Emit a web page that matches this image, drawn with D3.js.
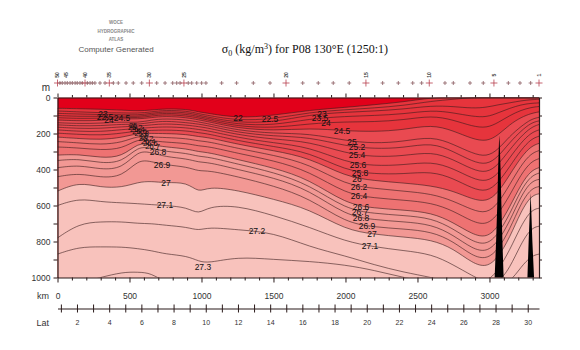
<!DOCTYPE html>
<html>
<head>
<meta charset="utf-8">
<script src="https://cdn.jsdelivr.net/npm/d3@7"></script>
<style>
    body { margin: 0; background: #ffffff; }
    svg { display: block; }
</style>
</head>
<body>
<div id="section_plot"></div>
<script>
// sigma-0 levels that are contoured
var levels = [22, 22.5, 23, 23.5, 24, 24.5, 25, 25.2, 25.4, 25.6, 25.8, 26, 26.2, 26.4, 26.6, 26.7, 26.8, 26.9, 27, 27.1, 27.2, 27.3, 27.4];

// distance along the section (km) of the columns where the depths were read
var columnKm = [0, 150, 300, 450, 560, 650, 750, 900, 980, 1050, 1250, 1500, 1750, 2000, 2200, 2400, 2600, 2750, 2880, 2980, 3060, 3140, 3220, 3290, 3344];

// depth (m) of every contour at those columns (1030 = below the plotted range)
var d22   = [60, 62, 65, 70, 75, 70, 62, 65, 80, 88, 114, 100, 70, 55, 40, 25, 0, 0, 0, 0, 0, 0, 0, 0, 0];
var d22_5 = [75, 80, 85, 85, 88, 80, 70, 75, 90, 100, 128, 120, 82, 68, 58, 45, 20, 10, 0, 0, 0, 0, 0, 0, 0];
var d23   = [88, 92, 95, 95, 98, 88, 78, 84, 98, 110, 140, 138, 95, 82, 75, 65, 45, 50, 60, 55, 40, 30, 18, 12, 10];
var d23_5 = [100, 105, 105, 103, 106, 95, 86, 93, 106, 118, 150, 155, 118, 105, 100, 92, 70, 85, 105, 110, 85, 60, 40, 32, 30];
var d24   = [112, 117, 115, 110, 113, 103, 94, 102, 114, 126, 160, 170, 145, 135, 135, 125, 100, 125, 160, 170, 140, 100, 70, 55, 50];
var d24_5 = [125, 130, 128, 117, 120, 112, 103, 112, 124, 135, 170, 185, 170, 185, 190, 180, 150, 185, 230, 245, 210, 150, 110, 88, 80];
var d25   = [140, 145, 143, 135, 140, 125, 117, 125, 136, 146, 182, 200, 200, 240, 255, 245, 215, 260, 310, 330, 290, 215, 160, 120, 110];
var d25_2 = [152, 158, 157, 148, 150, 138, 130, 140, 148, 157, 194, 215, 220, 270, 285, 280, 250, 300, 355, 375, 330, 250, 185, 140, 130];
var d25_4 = [165, 172, 172, 162, 160, 152, 145, 153, 162, 170, 207, 232, 245, 310, 330, 325, 300, 345, 400, 420, 375, 290, 215, 165, 150];
var d25_6 = [180, 188, 190, 178, 172, 167, 162, 168, 178, 185, 222, 252, 275, 360, 380, 375, 355, 395, 450, 470, 425, 335, 250, 195, 180];
var d25_8 = [198, 205, 210, 198, 185, 183, 180, 185, 196, 202, 240, 272, 305, 405, 425, 425, 410, 450, 505, 525, 475, 385, 290, 230, 215];
var d26   = [220, 228, 235, 222, 198, 200, 200, 205, 218, 222, 260, 295, 335, 440, 462, 475, 490, 520, 565, 580, 530, 430, 330, 270, 255];
var d26_2 = [245, 252, 262, 250, 212, 220, 222, 228, 242, 245, 283, 320, 370, 485, 505, 520, 535, 575, 625, 645, 590, 485, 375, 310, 295];
var d26_4 = [275, 280, 292, 285, 228, 240, 248, 255, 270, 272, 310, 350, 410, 535, 558, 570, 585, 630, 690, 710, 650, 545, 425, 355, 340];
var d26_6 = [320, 315, 335, 330, 250, 262, 275, 285, 302, 305, 345, 390, 455, 590, 615, 625, 640, 695, 760, 780, 720, 610, 480, 405, 390];
var d26_7 = [350, 340, 365, 360, 270, 282, 300, 310, 328, 330, 370, 415, 485, 620, 645, 655, 670, 730, 800, 820, 760, 650, 510, 435, 420];
var d26_8 = [390, 375, 400, 395, 295, 305, 330, 340, 360, 360, 400, 445, 515, 655, 680, 690, 705, 765, 840, 860, 800, 690, 545, 465, 455];
var d26_9 = [440, 420, 445, 440, 345, 355, 375, 385, 410, 405, 440, 490, 560, 695, 720, 730, 745, 800, 880, 900, 845, 735, 585, 505, 495];
var d27   = [520, 470, 500, 500, 470, 465, 475, 470, 530, 495, 515, 565, 620, 735, 760, 775, 790, 840, 920, 945, 890, 780, 630, 545, 535];
var d27_1 = [600, 560, 580, 585, 590, 595, 600, 610, 650, 605, 600, 655, 720, 800, 830, 850, 870, 930, 990, 1030, 960, 850, 710, 625, 615];
var d27_2 = [780, 700, 690, 690, 700, 700, 710, 720, 740, 720, 735, 750, 830, 880, 930, 970, 1000, 1030, 1030, 1030, 1030, 950, 810, 725, 715];
var d27_3 = [870, 830, 830, 830, 840, 850, 870, 880, 910, 920, 885, 900, 910, 930, 960, 1000, 1030, 1030, 1030, 1030, 1030, 1030, 940, 880, 870];
var d27_4 = [1030, 1030, 1000, 970, 970, 975, 1030, 1030, 1030, 1030, 1030, 1030, 1030, 1030, 1030, 1030, 1030, 1030, 1030, 1030, 1030, 1030, 1030, 1030, 1030];

// contour labels: text, distance (km), depth (m), size (the pile-up near 600 km is smaller)
var labelText  = ["23", "22.5", "24", "24.5", "25", "25.2", "25.4", "25.6", "25.8", "26", "26.2", "26.4", "26.6", "26.7", "26.8", "26.9", "27", "27.1", "27.3",
                  "22", "22.5", "27.2",
                  "23", "23.5", "24", "24.5", "25", "25.2", "25.4", "25.6", "25.8", "26", "26.2", "26.4", "26.6", "26.7", "26.8", "26.9", "27", "27.1"];
var labelKm    = [316, 330, 358, 448, 525, 540, 555, 570, 585, 600, 615, 630, 645, 660, 698, 726, 753, 746, 1010,
                  1253, 1476, 1385,
                  1837, 1823, 1865, 1976, 2045, 2080, 2080, 2087, 2101, 2080, 2094, 2094, 2108, 2101, 2108, 2149, 2184, 2170];
var labelDepth = [92, 108, 125, 114, 155, 166, 178, 190, 202, 214, 228, 243, 257, 272, 303, 375, 475, 597, 940,
                  114, 120, 740,
                  92, 114, 142, 186, 247, 275, 319, 375, 419, 453, 497, 547, 608, 636, 669, 714, 758, 825];
var labelSize  = [8.5, 8.5, 8.5, 8.5, 7.5, 7.5, 7.5, 7.5, 7.5, 7.5, 7.5, 7.5, 7.5, 7.5, 8.5, 8.5, 8.5, 8.5, 8.5,
                  8.5, 8.5, 8.5,
                  8.5, 8.5, 8.5, 8.5, 8.5, 8.5, 8.5, 8.5, 8.5, 8.5, 8.5, 8.5, 8.5, 8.5, 8.5, 8.5, 8.5, 8.5];

// sea floor spikes (km, m)
var ridgeKm    = [3034, 3046, 3054, 3060, 3066, 3068, 3071, 3077, 3083, 3090, 3100];
var ridgeDepth = [1040, 800, 600, 400, 250, 210, 250, 400, 600, 800, 1040];
var knollKm    = [3262, 3272, 3280, 3286, 3291, 3298, 3312];
var knollDepth = [1040, 800, 640, 530, 640, 800, 1040];

// stations along the top (km) and the numbered ones
var stationKm = [0, 17, 33, 52, 68, 87, 103, 122, 137, 156, 172, 191, 207, 226, 242, 260, 295, 330, 360, 388, 422, 476, 526, 585, 638, 689, 747, 800, 828, 851, 878, 908, 932, 967, 1001, 1031, 1140, 1244, 1360, 1476, 1587, 1703, 1811, 1915, 2026, 2142, 2258, 2367, 2467, 2529, 2582, 2691, 2749, 2865, 2957, 3031, 3131, 3212, 3286, 3344];
var stationLabelKm = [0, 60, 191, 360, 638, 878, 1587, 2142, 2582, 3031, 3344];
var stationLabels  = ["50", "45", "40", "35", "30", "25", "20", "15", "10", "5", "1"];

// axis ticks
var depthTicks = [0, 100, 200, 300, 400, 500, 600, 700, 800, 900, 1000];
var kmTicks = d3.range(0, 3301, 100);
var latTicks = d3.range(1, 31);

var depthRows = [d22, d22_5, d23, d23_5, d24, d24_5, d25, d25_2, d25_4, d25_6, d25_8, d26, d26_2, d26_4, d26_6, d26_7, d26_8, d26_9, d27, d27_1, d27_2, d27_3, d27_4];
var contours = levels.map(function(lv, i) { return {level: lv, depths: depthRows[i]}; });

// fill colour below a level
function bandColor(lv) {
    if (lv >= 27) return "#f8c2bc";
    if (lv >= 26.6) return "#f29894";
    if (lv >= 26) return "#ee7272";
    if (lv >= 24.5) return "#e94a51";
    return "#e6343c";
}

var margin = {top: 97.5, right: 41, bottom: 72.5, left: 57.5},
    width = 580 - margin.left - margin.right,
    height = 277.5 - margin.top;

var svg = d3.select("#section_plot")
    .append("svg")
        .attr("width", 580)
        .attr("height", 350)
        .style("font-family", "'Liberation Sans', Arial, sans-serif");

var plot = svg.append("g")
    .attr("transform", "translate(" + margin.left + "," + margin.top + ")");

var x = d3.scaleLinear().domain([0, 3344]).range([0, width]);
var y = d3.scaleLinear().domain([0, 1000]).range([0, height]);
var lat = d3.scaleLinear().domain([0.79, 30.7]).range([0, width]);

plot.append("clipPath").attr("id", "clip")
    .append("rect").attr("width", width).attr("height", height);

var field = plot.append("g").attr("clip-path", "url(#clip)");

// lightest water on top
field.append("rect")
    .attr("width", width)
    .attr("height", height)
    .attr("fill", "#e2001a");

var area = d3.area()
    .x(function(d, i) { return x(columnKm[i]); })
    .y0(y(1060))
    .y1(function(d) { return y(d); })
    .curve(d3.curveBasis);

var line = d3.line()
    .x(function(d, i) { return x(columnKm[i]); })
    .y(function(d) { return y(d); })
    .curve(d3.curveBasis);

field.selectAll(".band")
    .data(contours)
    .enter().append("path")
    .attr("class", "band")
    .attr("d", function(c) { return area(c.depths); })
    .attr("fill", function(c) { return bandColor(c.level); });

field.selectAll(".iso")
    .data(contours)
    .enter().append("path")
    .attr("class", "iso")
    .attr("d", function(c) { return line(c.depths); })
    .attr("fill", "none")
    .attr("stroke", "#3a1c1c")
    .attr("stroke-opacity", 0.85)
    .attr("stroke-width", 0.7);

// bottom topography
var floor = d3.area()
    .x(function(d) { return x(d[0]); })
    .y0(y(1060))
    .y1(function(d) { return y(d[1]); });
field.append("path")
    .attr("d", floor(d3.zip(ridgeKm, ridgeDepth)))
    .attr("fill", "#000");
field.append("path")
    .attr("d", floor(d3.zip(knollKm, knollDepth)))
    .attr("fill", "#000");

// contour labels
plot.selectAll(".clabel")
    .data(labelText)
    .enter().append("text")
    .attr("class", "clabel")
    .attr("x", function(d, i) { return x(labelKm[i]); })
    .attr("y", function(d, i) { return y(labelDepth[i]); })
    .attr("dy", "0.35em")
    .attr("text-anchor", "middle")
    .style("font-size", function(d, i) { return labelSize[i] + "px"; })
    .attr("fill", "#111")
    .text(function(d) { return d; });

// axes
function styleAxis(g) {
    g.attr("font-family", "'Liberation Sans', Arial, sans-serif").attr("font-size", 8.5);
    g.selectAll("path").attr("stroke", "#2a1a1a").attr("stroke-width", 1.2);
    g.selectAll("line").attr("stroke", "#2a1a1a");
    g.selectAll("text").attr("fill", "#333");
}

plot.append("g")
    .call(d3.axisTop(x).tickValues(kmTicks).tickFormat("").tickSizeOuter(0))
    .call(styleAxis)
    .selectAll(".tick line")
    .attr("y2", function(d) { return d % 500 === 0 ? -4 : -2.5; });

plot.append("g")
    .attr("transform", "translate(0," + height + ")")
    .call(d3.axisBottom(x).tickValues(kmTicks)
        .tickFormat(function(d) { return d % 500 === 0 ? d : ""; })
        .tickSize(5).tickPadding(10).tickSizeOuter(0))
    .call(styleAxis)
    .selectAll(".tick line")
    .attr("y2", function(d) { return d % 500 === 0 ? 5 : 3; });

plot.append("g")
    .call(d3.axisLeft(y).tickValues(depthTicks)
        .tickFormat(function(d) { return d % 200 === 0 ? d : ""; })
        .tickSize(4).tickPadding(3).tickSizeOuter(0))
    .call(styleAxis);

plot.append("g")
    .attr("transform", "translate(" + width + ",0)")
    .call(d3.axisRight(y).tickValues(depthTicks).tickFormat("").tickSize(3).tickSizeOuter(0))
    .call(styleAxis);

// latitude scale
var latAxis = plot.append("g")
    .attr("transform", "translate(0," + (height + 31) + ")")
    .call(d3.axisBottom(lat).tickValues(latTicks)
        .tickFormat(function(d) { return d % 2 === 0 ? d : ""; })
        .tickSize(4).tickPadding(8).tickSizeOuter(0))
    .call(styleAxis);
latAxis.selectAll(".tick line").attr("y1", -4);
latAxis.selectAll(".tick text").attr("font-size", 7);

svg.append("text").attr("x", 50).attr("y", 91).attr("text-anchor", "end")
    .style("font-size", "10px").attr("fill", "#333").text("m");
svg.append("text").attr("x", 49).attr("y", 299).attr("text-anchor", "end")
    .style("font-size", "9px").attr("fill", "#333").text("km");
svg.append("text").attr("x", 49).attr("y", 326).attr("text-anchor", "end")
    .style("font-size", "9px").attr("fill", "#333").text("Lat");

// stations
var stations = svg.append("g").attr("transform", "translate(" + margin.left + ",83)");
stations.selectAll(".stn")
    .data(stationKm)
    .enter().append("path")
    .attr("class", "stn")
    .attr("d", function(d) {
        var s = stationLabelKm.indexOf(d) >= 0 ? 3.5 : 2;
        var cx = x(d);
        return "M" + (cx - s) + ",0H" + (cx + s) + "M" + cx + "," + (-s) + "V" + s;
    })
    .attr("stroke", function(d) { return stationLabelKm.indexOf(d) >= 0 ? "#b8404e" : "#8a5a60"; })
    .attr("stroke-width", 0.8)
    .attr("fill", "none");

stations.selectAll(".stnlabel")
    .data(stationLabels)
    .enter().append("text")
    .attr("class", "stnlabel")
    .attr("transform", function(d, i) { return "translate(" + x(stationLabelKm[i]) + ",-8) rotate(-90)"; })
    .attr("dy", "0.35em")
    .attr("text-anchor", "middle")
    .style("font-size", "5px")
    .style("font-weight", "bold")
    .attr("fill", "#444")
    .text(function(d) { return d; });

// header
var logo = ["WOCE", "HYDROGRAPHIC", "ATLAS"];
svg.selectAll(".logo")
    .data(logo)
    .enter().append("text")
    .attr("x", 116)
    .attr("y", function(d, i) { return 24 + i * 8.5; })
    .attr("text-anchor", "middle")
    .style("font-size", "4.5px")
    .style("font-weight", "bold")
    .attr("fill", "#888")
    .text(function(d) { return d; });

svg.append("text")
    .attr("x", 116).attr("y", 52)
    .attr("text-anchor", "middle")
    .style("font-size", "8px")
    .attr("fill", "#555")
    .text("Computer Generated");

var title = svg.append("text")
    .attr("x", 305).attr("y", 53)
    .attr("text-anchor", "middle")
    .style("font-family", "'Liberation Serif', 'DejaVu Serif', serif")
    .style("font-size", "12px")
    .attr("fill", "#111");
title.append("tspan").text("σ");
title.append("tspan").attr("dy", 3).style("font-size", "8px").text("0");
title.append("tspan").attr("dy", -3).text(" (kg/m");
title.append("tspan").attr("dy", -4).style("font-size", "8px").text("3");
title.append("tspan").attr("dy", 4).text(") for P08 130°E (1250:1)");
</script>
</body>
</html>
